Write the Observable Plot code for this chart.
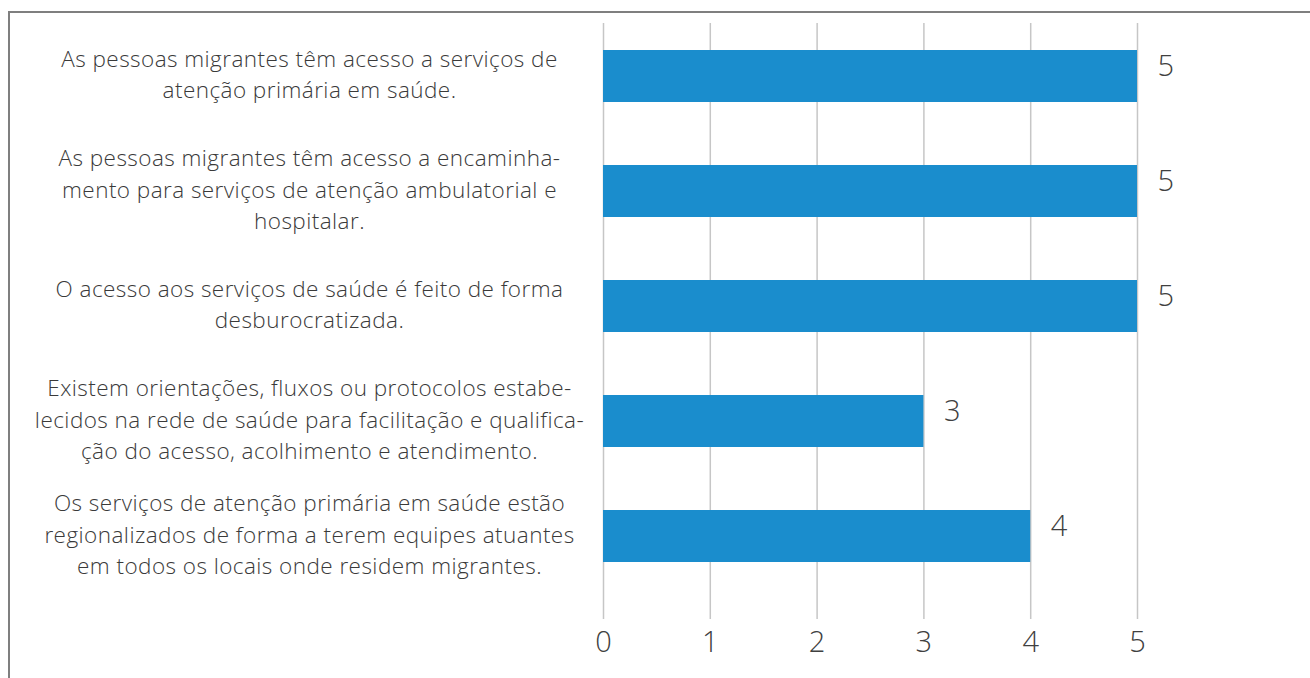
<!DOCTYPE html>
<html>
<head>
<meta charset="utf-8">
<script src="https://cdn.jsdelivr.net/npm/d3@7"></script>
<script src="https://cdn.jsdelivr.net/npm/@observablehq/plot@0.6"></script>
<style>
  html, body { margin: 0; padding: 0; background: #fff; }
  #wrap { position: relative; width: 1310px; height: 678px; overflow: hidden; }
  #frame { position: absolute; left: 8px; top: 11px; width: 1400px; height: 800px; border: 2px solid #7f7f7f; box-sizing: border-box; }
  #chart { position: absolute; left: 0; top: 0; }
  #chart g[aria-label="y-axis tick label"] text { letter-spacing: 0.45px; }
</style>
</head>
<body>
<div id="wrap"><div id="frame"></div><div id="chart"></div></div>
<script>
const categories = [
  "As pessoas migrantes têm acesso a serviços de\natenção primária em saúde.",
  "As pessoas migrantes têm acesso a encaminha-\nmento para serviços de atenção ambulatorial e\nhospitalar.",
  "O acesso aos serviços de saúde é feito de forma\ndesburocratizada.",
  "Existem orientações, fluxos ou protocolos estabe-\nlecidos na rede de saúde para facilitação e qualifica-\nção do acesso, acolhimento e atendimento.",
  "Os serviços de atenção primária em saúde estão\nregionalizados de forma a terem equipes atuantes\nem todos os locais onde residem migrantes."
];
const values = [5, 5, 5, 3, 4];
const xTicks = [0, 1, 2, 3, 4, 5];

const data = categories.map((c, i) => ({category: c, value: values[i]}));

const chart = Plot.plot({
  width: 1310,
  height: 678,
  marginTop: 23,
  marginBottom: 59,
  marginLeft: 603,
  marginRight: 173,
  style: {fontFamily: "'Open Sans', sans-serif", background: "transparent"},
  x: {domain: [0, 5], ticks: xTicks},
  y: {domain: categories, paddingInner: 0.546, paddingOuter: 0.22, insetBottom: 30},
  marks: [
    Plot.gridX(xTicks, {stroke: "#c6c6c6", strokeOpacity: 1, strokeWidth: 1.5}),
    Plot.barX(data, {y: "category", x: "value", fill: "#1a8dcd"}),
    Plot.text(data, {y: "category", x: "value", text: d => String(d.value), textAnchor: "start", dx: 20, dy: -10, fontSize: 29, fill: "#404040", fontWeight: 300}),
    Plot.axisX({ticks: xTicks, tickFormat: d3.format("d"), tickSize: 0, tickPadding: 12, fontSize: 29, fontWeight: 300, color: "#404040", label: null}),
    Plot.axisY({tickSize: 0, tickPadding: 0, textAnchor: "middle", dx: -294, dy: -4, fontSize: 22.5, lineHeight: 1.39, fontFamily: "'Open Sans', sans-serif", fontWeight: 300, color: "#3a3a3a", label: null, lineWidth: 100})
  ]
});
document.getElementById("chart").appendChild(chart);
</script>
</body>
</html>
